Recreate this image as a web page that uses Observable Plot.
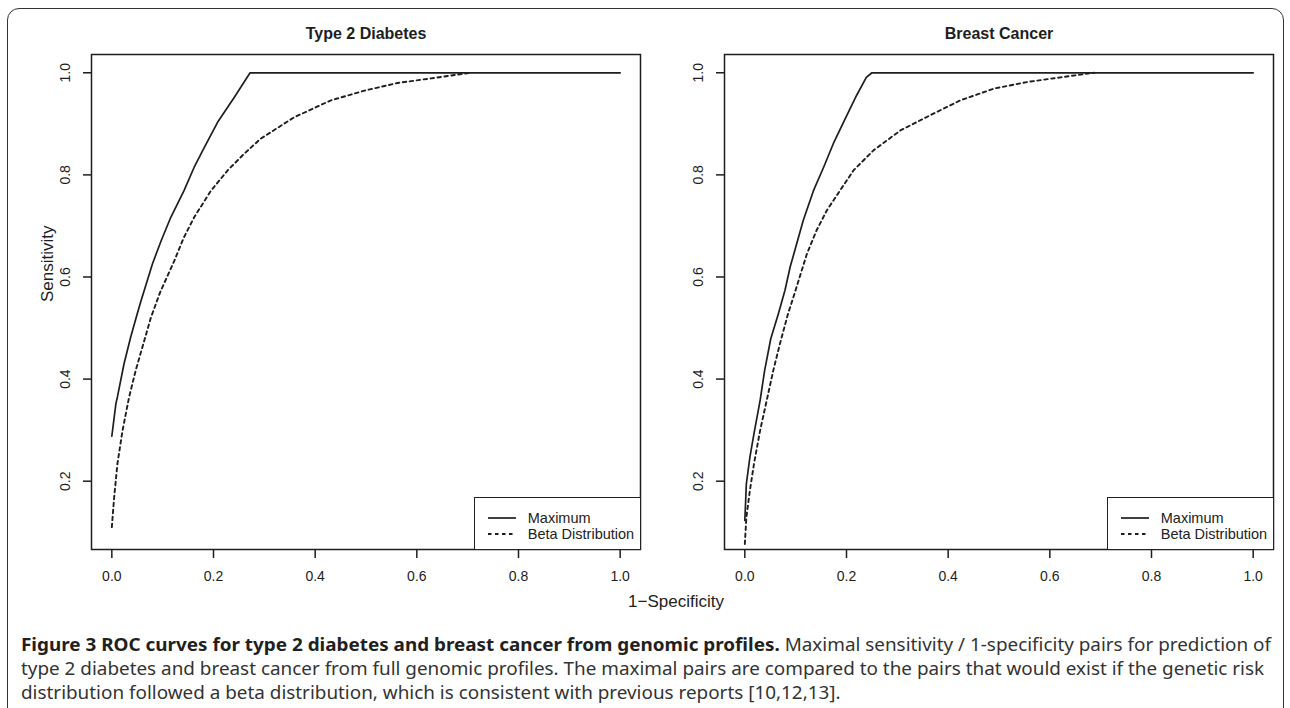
<!DOCTYPE html>
<html><head><meta charset="utf-8">
<script src="https://cdn.jsdelivr.net/npm/d3@7"></script>
<script src="https://cdn.jsdelivr.net/npm/@observablehq/plot@0.6"></script>
<style>
html,body{margin:0;padding:0;background:#fff;overflow:hidden;width:1290px;height:708px;}
#page{position:relative;width:1290px;height:708px;overflow:hidden;font-family:"Liberation Sans",Arial,sans-serif;color:#222;}
#frame{position:absolute;left:7px;top:8px;width:1277px;height:730px;border:1.5px solid #333;border-radius:12px;box-sizing:border-box;}
.panel{position:absolute;top:0;}
.legend{position:absolute;background:#fff;border:1.5px solid #222;box-sizing:border-box;font-size:14.5px;}
.legend .row{position:absolute;left:0;height:16px;display:flex;align-items:center;white-space:nowrap;}
.legend svg{display:block;}
#xlab{position:absolute;top:591px;left:0;width:1352px;text-align:center;font-size:17px;line-height:22px;}
#caption{position:absolute;left:21px;top:632px;font-family:"Noto Sans","Open Sans",sans-serif;font-stretch:condensed;font-size:18px;line-height:24px;color:#231f20;white-space:nowrap;transform-origin:0 0;}
#caption b{font-weight:700;}
#caption .reg{font-weight:400;color:#333;}
</style></head>
<body><div id="page"><div id="frame"></div></div>
<script>
// ---- data ----
const xTicks = [0, 0.2, 0.4, 0.6, 0.8, 1.0];
const yTicks = [0.2, 0.4, 0.6, 0.8, 1.0];
const panelTitles = ["Type 2 Diabetes", "Breast Cancer"];
const seriesNames = ["Maximum", "Beta Distribution"];
const xAxisLabel = "1\u2212Specificity";
const yAxisLabel = "Sensitivity";

// Type 2 Diabetes
const t2dMaxFpr  = [0, 0.008, 0.011, 0.024, 0.037, 0.050, 0.057, 0.080, 0.097, 0.116, 0.142, 0.162, 0.182, 0.208, 0.241, 0.272, 1.0];
const t2dMaxTpr  = [0.288, 0.352, 0.365, 0.430, 0.482, 0.528, 0.552, 0.626, 0.671, 0.717, 0.769, 0.815, 0.854, 0.903, 0.952, 1.0, 1.0];
const t2dBetaFpr = [0, 0.0046, 0.011, 0.021, 0.034, 0.047, 0.064, 0.077, 0.095, 0.123, 0.142, 0.162, 0.195, 0.228, 0.260, 0.293, 0.359, 0.431, 0.497, 0.562, 0.628, 0.705];
const t2dBetaTpr = [0.110, 0.169, 0.234, 0.299, 0.365, 0.417, 0.476, 0.521, 0.570, 0.632, 0.678, 0.717, 0.769, 0.809, 0.841, 0.871, 0.913, 0.946, 0.965, 0.980, 0.989, 1.0];

// Breast Cancer
const bcMaxFpr  = [0, 0.003, 0.010, 0.018, 0.030, 0.039, 0.051, 0.066, 0.079, 0.089, 0.102, 0.115, 0.135, 0.155, 0.174, 0.194, 0.220, 0.239, 0.250, 1.0];
const bcMaxTpr  = [0.123, 0.195, 0.247, 0.293, 0.358, 0.417, 0.479, 0.528, 0.574, 0.619, 0.665, 0.711, 0.769, 0.815, 0.861, 0.903, 0.956, 0.991, 1.0, 1.0];
const bcBetaFpr = [0, 0.003, 0.010, 0.018, 0.030, 0.043, 0.056, 0.069, 0.085, 0.097, 0.122, 0.141, 0.161, 0.187, 0.214, 0.253, 0.306, 0.371, 0.424, 0.490, 0.556, 0.621, 0.687];
const bcBetaTpr = [0.077, 0.129, 0.182, 0.234, 0.299, 0.358, 0.417, 0.469, 0.528, 0.565, 0.645, 0.691, 0.730, 0.769, 0.809, 0.848, 0.887, 0.920, 0.946, 0.969, 0.982, 0.991, 1.0];

const captionBold = "Figure 3 ROC curves for type 2 diabetes and breast cancer from genomic profiles.";
const captionLines = [
  " Maximal sensitivity / 1-specificity pairs for prediction of",
  "type 2 diabetes and breast cancer from full genomic profiles. The maximal pairs are compared to the pairs that would exist if the genetic risk",
  "distribution followed a beta distribution, which is consistent with previous reports [10,12,13]."
];

// ---- layout ----
const H = 600, MT = 54, MB = 51, BOXW = 549;
const panels = [
  {left: 0,   width: 645, ml: 91, title: panelTitles[0], mx: t2dMaxFpr, my: t2dMaxTpr, bx: t2dBetaFpr, by: t2dBetaTpr, ylab: true},
  {left: 645, width: 645, ml: 79, title: panelTitles[1], mx: bcMaxFpr,  my: bcMaxTpr,  bx: bcBetaFpr,  by: bcBetaTpr,  ylab: false}
];
const fmt = d3.format(".1f");
const ink = "#1e1e1e";
const page = document.getElementById("page");

for (const p of panels) {
  const maxRows = p.mx.map((x, i) => ({fpr: x, tpr: p.my[i], series: seriesNames[0]}));
  const betaRows = p.bx.map((x, i) => ({fpr: x, tpr: p.by[i], series: seriesNames[1]}));
  const marks = [
    Plot.frame({stroke: ink, strokeWidth: 1.5}),
    Plot.axisX({ticks: xTicks, tickSize: 9, tickPadding: 13, tickFormat: fmt, strokeWidth: 1.5, fontSize: 14, label: null}),
    Plot.axisY({ticks: yTicks, tickSize: 8, tickRotate: -90, tickPadding: 14, tickFormat: fmt, strokeWidth: 1.5, fontSize: 14, label: null}),
    Plot.line(maxRows, {x: "fpr", y: "tpr", stroke: ink, strokeWidth: 1.7}),
    Plot.line(betaRows, {x: "fpr", y: "tpr", stroke: ink, strokeWidth: 1.9, strokeDasharray: "3.5,3.5"}),
    Plot.text([p.title], {text: d => d, frameAnchor: "top", dy: -21, fontWeight: "bold", fontSize: 16, lineAnchor: "middle", fill: ink})
  ];
  if (p.ylab) marks.push(Plot.text([yAxisLabel], {text: d => d, frameAnchor: "left", dx: -44, rotate: -90, fontSize: 17, lineAnchor: "middle", fill: ink}));
  const chart = Plot.plot({
    width: p.width, height: H,
    marginLeft: p.ml, marginRight: p.width - p.ml - BOXW, marginTop: MT, marginBottom: MB,
    x: {domain: [-0.04, 1.04], label: null},
    y: {domain: [0.0662, 1.0358], label: null},
    style: {fontFamily: "'Liberation Sans', Arial, sans-serif", fontSize: "14px", color: ink, background: "transparent", overflow: "visible"},
    marks
  });
  const wrap = document.createElement("div");
  wrap.className = "panel";
  wrap.style.left = p.left + "px";
  wrap.appendChild(chart);
  page.appendChild(wrap);

  // legend (bottom-right of plot box)
  const boxRight = p.left + p.ml + BOXW;
  const lg = document.createElement("div");
  lg.className = "legend";
  const LW = 167, LH = 52.5;
  lg.style.left = (boxRight - LW + 0.75) + "px";
  lg.style.top = (H - MB - LH + 0.75) + "px";
  lg.style.width = LW + "px";
  lg.style.height = LH + "px";
  seriesNames.forEach((name, i) => {
    const row = document.createElement("div");
    row.className = "row";
    row.style.top = (11.5 + i * 16.6) + "px";
    row.style.left = "13px";
    row.innerHTML = `<svg width="28" height="16"><line x1="0" x2="28" y1="8" y2="8" stroke="${ink}" stroke-width="${i ? 1.9 : 1.7}" ${i ? 'stroke-dasharray="3.5,3.5"' : ''}/></svg><span style="margin-left:12px">${name}</span>`;
    lg.appendChild(row);
  });
  page.appendChild(lg);
}

const xl = document.createElement("div");
xl.id = "xlab";
xl.textContent = xAxisLabel;
page.appendChild(xl);

const cap = document.createElement("div");
cap.id = "caption";
cap.innerHTML = `<div><span id="l1"><b>${captionBold}</b><span class="reg">${captionLines[0]}</span></span></div>` +
  captionLines.slice(1).map(l => `<div class="reg">${l}</div>`).join("");
page.appendChild(cap);
// condense horizontally so the first caption line spans the reference width
const lw = document.getElementById("l1").getBoundingClientRect().width;
cap.style.transform = `scaleX(${(1250 / lw).toFixed(4)})`;
</script>
</body></html>
